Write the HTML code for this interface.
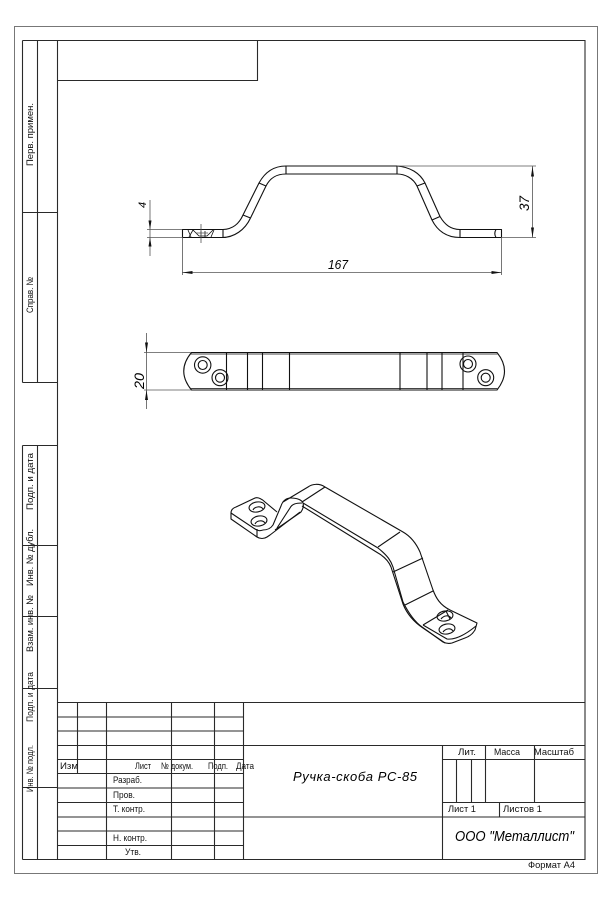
<!DOCTYPE html>
<html lang="ru"><head><meta charset="utf-8"><title>Ручка-скоба РС-85</title>
<style>html,body{margin:0;padding:0;background:#fff;width:600px;height:900px;overflow:hidden}svg{display:block}
text{font-family:"Liberation Sans",sans-serif;font-size:9.5px;fill:#111}
.i{font-style:italic;fill:#000}
.f{stroke:#2a2a2a;stroke-width:1.1;fill:none}
.g{stroke:#777;stroke-width:1;fill:none}
.d{stroke:#111;stroke-width:1.1;fill:none;stroke-linejoin:round}
.t{stroke:#555;stroke-width:.8;fill:none}
.a{fill:#111;stroke:none}</style></head><body>
<svg width="600" height="900" viewBox="0 0 600 900" xmlns="http://www.w3.org/2000/svg">
<!-- outer thin frame -->
<rect x="14.5" y="26.5" width="583" height="847" class="g"/>
<!-- inner frame -->
<path class="f" d="M57.5 40.5H585V859.5H22.5M57.5 40.5V859.5M22.5 40.5H57.5M37.5 40.5V382.5M37.5 445.5V859.5M22.5 40.5V382.5M22.5 445.5V859.5"/>
<path class="f" d="M57.5 80.5H257.5V40.5M22.5 212.5H57.5M22.5 382.5H57.5M22.5 445.5H57.5M22.5 545.5H57.5M22.5 616.5H57.5M22.5 688.5H57.5M22.5 787.5H57.5"/>
<!-- title block -->
<path class="f" d="M57.5 702.5H585M57.5 717H243M57.5 731H243M57.5 745.5H585M57.5 759.5H243M57.5 773.5H243M57.5 788H243M57.5 802.5H243M57.5 817H585M57.5 831H243M57.5 845.5H243"/>
<path class="f" d="M77.5 702.5V773.5M106.5 702.5V859.5M171.5 702.5V859.5M214.5 702.5V859.5M243.5 702.5V817"/>
<path class="f" d="M243.5 817V859.5M442.5 745.5V859.5M443 759.5H585M443 802.5H585M485.5 745.5V802.5M534.5 745.5V802.5M456.5 759.5V802.5M471.5 759.5V802.5M499.5 802.5V817"/>
<!-- rotated labels -->
<text transform="translate(33,166) rotate(-90)" textLength="63" lengthAdjust="spacingAndGlyphs">Перв. примен.</text>
<text transform="translate(33,313) rotate(-90)" textLength="36" lengthAdjust="spacingAndGlyphs">Справ. №</text>
<text transform="translate(33,510) rotate(-90)" textLength="57" lengthAdjust="spacingAndGlyphs">Подп. и дата</text>
<text transform="translate(33,586) rotate(-90)" textLength="57" lengthAdjust="spacingAndGlyphs">Инв. № дубл.</text>
<text transform="translate(33,652) rotate(-90)" textLength="57" lengthAdjust="spacingAndGlyphs">Взам. инв. №</text>
<text transform="translate(33,722) rotate(-90)" textLength="50" lengthAdjust="spacingAndGlyphs">Подп. и дата</text>
<text transform="translate(33,792) rotate(-90)" textLength="47" lengthAdjust="spacingAndGlyphs">Инв. № подл.</text>
<!-- title texts -->
<text x="60" y="769" textLength="18" lengthAdjust="spacingAndGlyphs">Изм</text>
<text x="135" y="769" textLength="16" lengthAdjust="spacingAndGlyphs">Лист</text>
<text x="161" y="769" textLength="32" lengthAdjust="spacingAndGlyphs">№ докум.</text>
<text x="208" y="769" textLength="20" lengthAdjust="spacingAndGlyphs">Подп.</text>
<text x="236" y="769" textLength="18" lengthAdjust="spacingAndGlyphs">Дата</text>
<text x="113" y="783" textLength="29" lengthAdjust="spacingAndGlyphs">Разраб.</text>
<text x="113" y="798" textLength="22" lengthAdjust="spacingAndGlyphs">Пров.</text>
<text x="113" y="812" textLength="32" lengthAdjust="spacingAndGlyphs">Т. контр.</text>
<text x="113" y="841" textLength="34" lengthAdjust="spacingAndGlyphs">Н. контр.</text>
<text x="125" y="855" textLength="16" lengthAdjust="spacingAndGlyphs">Утв.</text>
<text x="458" y="755" textLength="18" lengthAdjust="spacingAndGlyphs">Лит.</text>
<text x="494" y="755" textLength="26" lengthAdjust="spacingAndGlyphs">Масса</text>
<text x="534" y="755" textLength="40" lengthAdjust="spacingAndGlyphs">Масштаб</text>
<text x="448" y="812" textLength="28" lengthAdjust="spacingAndGlyphs">Лист 1</text>
<text x="503" y="812" textLength="39" lengthAdjust="spacingAndGlyphs">Листов 1</text>
<text x="528" y="868" textLength="47" lengthAdjust="spacingAndGlyphs">Формат А4</text>
<text class="i" x="293" y="781" style="font-size:13px" textLength="124">Ручка-скоба РС-85</text>
<text class="i" x="455" y="841" style="font-size:15px" textLength="119" lengthAdjust="spacingAndGlyphs">ООО "Металлист"</text>
<!-- side view -->
<path class="d" d="M182.5 229.5H223C233 229 239 224 243 215L259 183C265 172 274 166 286 166H397C410 167 420 173 425 183L440 216.5C445 225 451 229.5 460 229.5H501.5V237.5H460C446 237.5 437 230 432 220L417 186C413 178 405 174 397 174H286C276 174 270 178 266 186L250.5 218C245 230 234 237.5 222 237.5H182.5Z"/>
<path class="d" d="M223 229.5V237.5M243 215L250.5 218M259 183L266 186M286 166V174M397 166V174M417 186L425 183M432 220L440 216.5M460 229.5V237.5M496 229.5C494.5 232 494.5 235 496 237.5"/>
<path class="d" style="stroke-width:.8" d="M188 230L191 237M189 237L193 230M193 230L199 236H207L213 230M201 231V237M205 231V237M211 237L214 230"/>
<path class="t" d="M201 224V243M196 233H208"/>
<!-- dimensions top -->
<path class="t" d="M147 229.5H182M147 237.5H182M150 200V256M182.5 237V275M501.5 237V275M182 272.5H501.5M397 166H536M501 237.5H536M532.5 166V237.5"/>
<path class="a" d="M150 229.5l-1.5-9h3ZM150 237.5l-1.5 9h3ZM182.5 272.5l10-1.5v3ZM501.5 272.5l-10-1.5v3ZM532.5 166.5l-1.5 10h3ZM532.5 237.5l-1.5-10h3Z"/>
<text class="i" x="328" y="269" style="font-size:13px" textLength="20" lengthAdjust="spacingAndGlyphs">167</text>
<text class="i" transform="translate(529,211) rotate(-90)" style="font-size:14px" textLength="15" lengthAdjust="spacingAndGlyphs">37</text>
<text class="i" transform="translate(146,208) rotate(-90)" style="font-size:11px">4</text>
<!-- front view -->
<path class="d" d="M191.5 352.5H497Q512 371 497 390H191.5Q176 371 191.5 352.5Z"/>
<path class="g" style="stroke:#444" d="M191 354H498M191 388.5H498"/>
<path class="d" d="M226.5 352.5V390M247.5 352.5V390M262.5 352.5V390M289.5 352.5V390M400 352.5V390M427 352.5V390M442 352.5V390M463 352.5V390"/>
<g class="d"><circle cx="202.7" cy="365" r="8.2"/><circle cx="202.7" cy="365" r="4.5"/><circle cx="220" cy="377.7" r="8"/><circle cx="220" cy="377.7" r="4.5"/><circle cx="468" cy="364" r="8"/><circle cx="468" cy="364" r="4.5"/><circle cx="485.7" cy="377.7" r="8"/><circle cx="485.7" cy="377.7" r="4.5"/></g>
<path class="t" d="M144 352.5H191M144 390H191M146.5 333V409"/>
<path class="a" d="M146.5 352.5l-1.5-10h3ZM146.5 390l-1.5 10h3Z"/>
<text class="i" transform="translate(144,389) rotate(-90)" style="font-size:14px" textLength="16" lengthAdjust="spacingAndGlyphs">20</text>
<!-- isometric view -->
<g class="d">
<path d="M231 513C231 510 233 508 236 507L255 498C258 497 262 499 265 502L277 512"/>
<path d="M231 513V519L257 537C260 539 264 539 267 537L270 535L300 512"/>
<path d="M231 513L255 529C258 531 260 531 263 530"/>
<path d="M257 529V537"/>
<path d="M263 530C268 530 271 528 273 525L281 506C283 500 287 498 291 498C297 498 302 500 303 503C304 506 303 509 301 512L275 530"/>
<path d="M277 528L290 508C292 504 296 503 302 503"/>
<path d="M283 502L308 487C312 484 319 483 325 487L403 532C410 536 416 543 420 552L433 590C436 598 440 605 450 610L477 623L475 630C472 635 468 637 465 638L452 643C448 644 445 643 443 642L422 627C415 622 408 612 403 602L393 567C391 561 388 556 378 548L303 503"/>
<path d="M302 506L378 553C385 557 389 562 391 567L403 604C407 614 414 622 423 628L445 643"/>
<path d="M302 502L325 487M378 547L400 532M393 572L423 558M405 605L433 591M423 625L448 610M423 625L447 639C455 640 465 635 476 626"/>
<ellipse cx="257" cy="507" rx="8" ry="5" transform="rotate(-10 257 507)"/>
<ellipse cx="259" cy="521" rx="8" ry="5" transform="rotate(-10 259 521)"/>
<path d="M253 510C255 506 261 506 263 509M255 524C257 520 263 520 265 523"/>
<ellipse cx="445" cy="616" rx="8" ry="5" transform="rotate(-10 445 616)"/>
<ellipse cx="447" cy="629" rx="8" ry="5" transform="rotate(-10 447 629)"/>
<path d="M441 619C444 615 449 615 451 618M443 632C446 628 451 628 453 631M446 611L450 619"/>
</g>
</svg>
</body></html>
